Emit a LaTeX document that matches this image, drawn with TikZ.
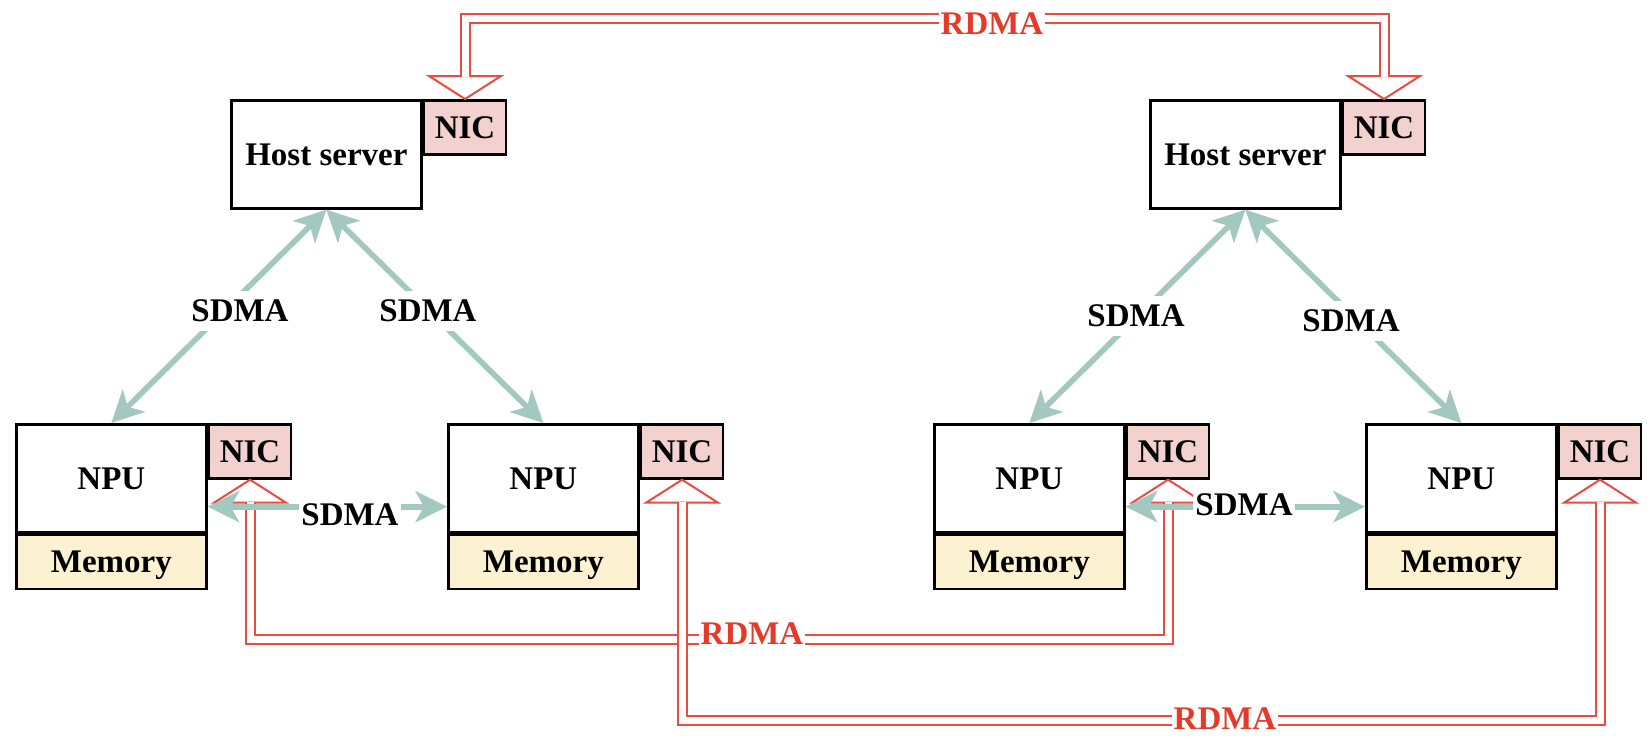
\documentclass[tikz,border=0pt]{standalone}
\usepackage{fontspec}
\setmainfont{Liberation Serif}
\usetikzlibrary{arrows.meta,calc}
\definecolor{sdmac}{HTML}{A3C8BF}
\definecolor{rdmac}{HTML}{EA4C40}
\definecolor{rdmat}{HTML}{E53A2A}
\definecolor{nicfill}{HTML}{F2D1CE}
\definecolor{memfill}{HTML}{FCF1D1}
\begin{document}
\begin{tikzpicture}[x=0.5pt,y=-0.5pt,
  font=\fontsize{16.5}{19}\selectfont\bfseries,
  box/.style={draw=black, line width=1.35pt, fill=white, minimum width=95pt, minimum height=54pt,
    inner sep=0pt, text height=10.9pt, text depth=0pt, anchor=north west},
  nicbox/.style={box, fill=nicfill, minimum width=41pt, minimum height=27pt},
  membox/.style={box, fill=memfill, minimum height=27pt},
  sdma/.style={draw=sdmac, line width=2.8pt,
    {Stealth[length=16pt,width=16pt,inset=4.5pt,line width=0pt]}-{Stealth[length=16pt,width=16pt,inset=4.5pt,line width=0pt]}},
  rdma/.style={draw=rdmac, line width=1pt, double=white, double distance=3.5pt},
  rhead/.style={draw=rdmac, fill=white, line width=1pt, line join=miter},
  lab/.style={fill=white, inner xsep=1pt, inner ysep=4.5pt, text height=10.9pt, text depth=0pt},
  rlab/.style={lab, text=rdmat}]
\useasboundingbox (0,0) rectangle (1650,746);

% host servers
\node[box] (h1) at (230,99) {Host server};
\node[nicbox] (hc1) at (h1.north east) {NIC};
\node[box] (h2) at (1149,99) {Host server};
\node[nicbox] (hc2) at (h2.north east) {NIC};

% NPUs
\node[box] (n1) at (15,423) {NPU};
\node[membox] (m1) at (n1.south west) {Memory};
\node[nicbox] (c1) at (n1.north east) {NIC};
\node[box] (n2) at (447,423) {NPU};
\node[membox] (m2) at (n2.south west) {Memory};
\node[nicbox] (c2) at (n2.north east) {NIC};
\node[box] (n3) at (933,423) {NPU};
\node[membox] (m3) at (n3.south west) {Memory};
\node[nicbox] (c3) at (n3.north east) {NIC};
\node[box] (n4) at (1365,423) {NPU};
\node[membox] (m4) at (n4.south west) {Memory};
\node[nicbox] (c4) at (n4.north east) {NIC};

% RDMA arrowheads
\draw[rhead] (hc1.north) -- ++(36,-23) -- ++(-72,0) -- cycle;
\draw[rhead] (hc2.north) -- ++(36,-23) -- ++(-72,0) -- cycle;
\draw[rhead] (c1.south) -- ++(36,23) -- ++(-72,0) -- cycle;
\draw[rhead] (c2.south) -- ++(36,23) -- ++(-72,0) -- cycle;
\draw[rhead] (c3.south) -- ++(36,23) -- ++(-72,0) -- cycle;
\draw[rhead] (c4.south) -- ++(36,23) -- ++(-72,0) -- cycle;

% RDMA double lines
\coordinate (ytop) at (0,18.5);
\coordinate (ylow) at (0,639.5);
\coordinate (ybot) at (0,720.5);
\draw[rdma] ($(hc1.north)+(0,-22)$) -- (hc1.north |- ytop) -- (hc2.north |- ytop) -- ($(hc2.north)+(0,-22)$);
\draw[rdma] ($(c1.south)+(0,22)$) -- (c1.south |- ylow) -- (c3.south |- ylow) -- ($(c3.south)+(0,22)$);
\draw[rdma] ($(c2.south)+(0,22)$) -- (c2.south |- ybot) -- (c4.south |- ybot) -- ($(c4.south)+(0,22)$);
\node[rlab] (rl1) at (992,24) {RDMA};
\node[rlab] (rl2) at (752,634) {RDMA};
\node[rlab] (rl3) at (1225,719) {RDMA};

% SDMA arrows
\draw[sdma] (h1.south) -- (n1.north);
\draw[sdma] (h1.south) -- (n2.north);
\draw[sdma] (h2.south) -- (n3.north);
\draw[sdma] (h2.south) -- (n4.north);
\draw[sdma] ($(n1.north east)!0.5!(m1.south east)$) -- ($(n2.north west)!0.5!(m2.south west)$);
\draw[sdma] ($(n3.north east)!0.5!(m3.south east)$) -- ($(n4.north west)!0.5!(m4.south west)$);
\node[lab] (sl1) at (240,311) {SDMA};
\node[lab] (sl2) at (428,311) {SDMA};
\node[lab] (sl3) at (1136,316) {SDMA};
\node[lab] (sl4) at (1351,321) {SDMA};
\node[lab] (sl5) at (350,515) {SDMA};
\node[lab] (sl6) at (1244,505) {SDMA};
\end{tikzpicture}
\end{document}
